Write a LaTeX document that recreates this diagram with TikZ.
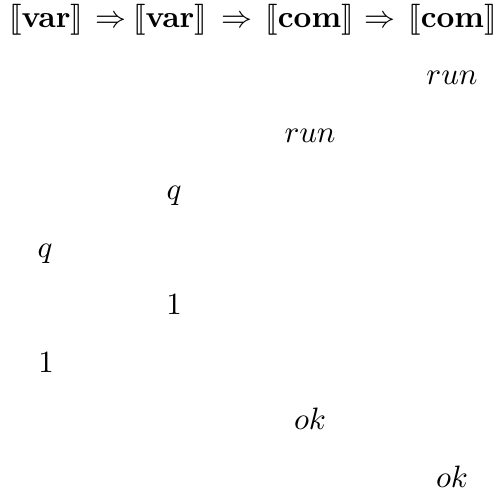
\documentclass[tikz,border=0pt]{standalone}
\usepackage{amsmath, amssymb}
\usepackage{stmaryrd}
\usetikzlibrary{positioning}

\begin{document}
\begin{tikzpicture}[
  type/.style={anchor=base, inner sep=0pt},
  move/.style={anchor=base, inner sep=0pt}
]
  \useasboundingbox (0, 0) rectangle (5.623, -5.623);

  % Types
  \node[type] (var1) at (0.523, -0.307) {$\llbracket\mathbf{var}\rrbracket$};
  \node[type] (imp1) at (1.255, -0.307) {$\Rightarrow$};
  \node[type] (var2) at (1.931, -0.307) {$\llbracket\mathbf{var}\rrbracket$};
  \node[type] (imp2) at (2.687, -0.307) {$\Rightarrow$};
  \node[type] (com1) at (3.516, -0.307) {$\llbracket\mathbf{com}\rrbracket$};
  \node[type] (imp3) at (4.317, -0.307) {$\Rightarrow$};
  \node[type] (com2) at (5.140, -0.307) {$\llbracket\mathbf{com}\rrbracket$};

  % Moves
  \node[move] (run2) at (5.135, -0.960) {$run$};
  \node[move] (run1) at (3.522, -1.614) {$run$};
  \node[move] (q2)   at (1.977, -2.267) {$q$};
  \node[move] (q1)   at (0.511, -2.920) {$q$};
  \node[move] (one2) at (1.977, -3.574) {$1$};
  \node[move] (one1) at (0.523, -4.227) {$1$};
  \node[move] (ok1)  at (3.522, -4.880) {$ok$};
  \node[move] (ok2)  at (5.135, -5.533) {$ok$};
\end{tikzpicture}
\end{document}
